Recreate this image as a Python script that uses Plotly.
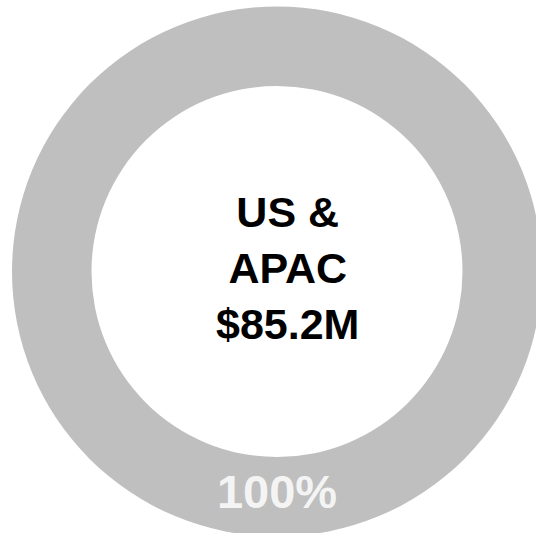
import plotly.graph_objects as go

# Data
regions = ["US & APAC"]
revenue_musd = [85.2]
center_lines = ["US &", "APAC", "$85.2M"]
slice_colors = ["#BFBFBF"]

W, H = 543, 537
cx, cy, r = 277, 271.5, 265  # pixel placement of donut

fig = go.Figure(
    go.Pie(
        labels=regions,
        values=revenue_musd,
        hole=0.70,
        sort=False,
        direction="clockwise",
        rotation=0,
        marker=dict(colors=slice_colors, line=dict(width=0)),
        textinfo="percent",
        texttemplate="<b>%{percent:.0%}</b>",
        textposition="inside",
        insidetextorientation="horizontal",
        textfont=dict(family="Liberation Sans, Arial, sans-serif", size=47, color="#F4F4F4"),
        hoverinfo="label+value",
        showlegend=False,
        domain=dict(
            x=[(cx - r) / W, (cx + r) / W],
            y=[(H - (cy + r)) / H, (H - (cy - r)) / H],
        ),
    )
)

fig.add_annotation(
    text="<br>".join(center_lines),
    x=287 / W,
    y=1 - 268 / H,
    xref="paper",
    yref="paper",
    xanchor="center",
    yanchor="middle",
    showarrow=False,
    align="center",
    font=dict(family="Liberation Sans, Arial, sans-serif", size=43, color="#000000", weight="bold"),
)

fig.update_layout(
    width=W,
    height=H,
    margin=dict(l=0, r=0, t=0, b=0),
    paper_bgcolor="#FFFFFF",
    plot_bgcolor="#FFFFFF",
    uniformtext=dict(minsize=47, mode="show"),
)

fig.write_html(
    "out.html",
    config={"displayModeBar": False},
    post_script="document.body.style.margin='0';document.body.style.overflow='hidden';",
)
